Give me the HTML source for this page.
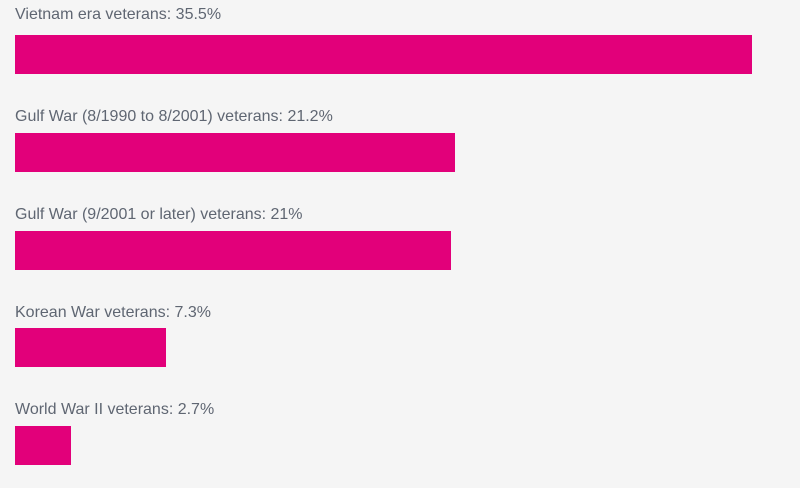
<!DOCTYPE html>
<html><head><style>
body{margin:0;width:800px;height:488px;background:#f5f5f5;position:relative;overflow:hidden;font-family:"Liberation Sans",sans-serif}
.l{position:absolute;left:15px;font-size:16px;color:#5f6672;line-height:18px;white-space:nowrap}
.b{position:absolute;left:15px;height:39px;background:#e2007a}
</style></head><body>
<div class="l" style="top:6px">Vietnam era veterans: 35.5%</div>
<div class="b" style="top:35px;width:737px"></div>
<div class="l" style="top:108px">Gulf War (8/1990 to 8/2001) veterans: 21.2%</div>
<div class="b" style="top:133px;width:440px"></div>
<div class="l" style="top:206px">Gulf War (9/2001 or later) veterans: 21%</div>
<div class="b" style="top:231px;width:436px"></div>
<div class="l" style="top:304px">Korean War veterans: 7.3%</div>
<div class="b" style="top:328px;width:151px"></div>
<div class="l" style="top:401px">World War II veterans: 2.7%</div>
<div class="b" style="top:426px;width:56px"></div>
</body></html>
